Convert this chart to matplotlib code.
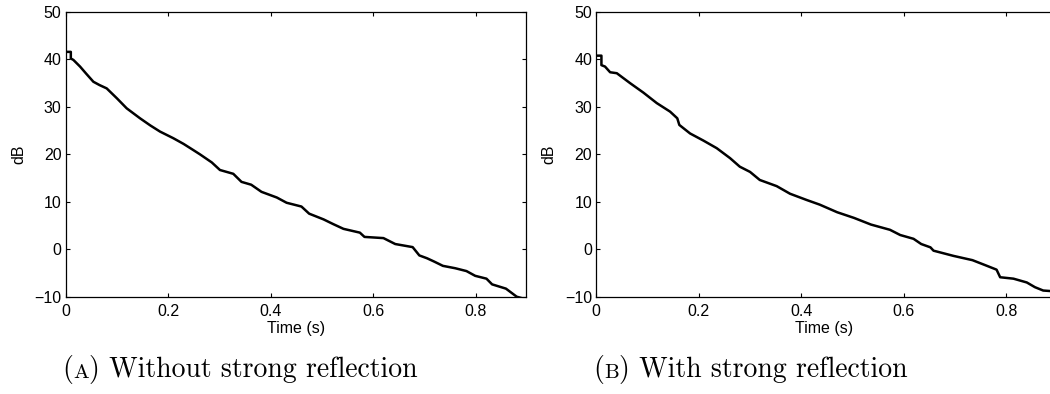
import matplotlib
matplotlib.use("Agg")
import matplotlib.pyplot as plt
from matplotlib.offsetbox import TextArea, HPacker, AnnotationBbox

# Panel A: without strong reflection (time s, level dB)
t_a = [0.0, 0.010, 0.010, 0.015, 0.028, 0.040, 0.054, 0.066, 0.080, 0.100, 0.119,
       0.145, 0.165, 0.184, 0.210, 0.230, 0.249, 0.262, 0.285, 0.301, 0.327, 0.343,
       0.362, 0.382, 0.412, 0.431, 0.460, 0.475, 0.503, 0.522, 0.542, 0.574, 0.583,
       0.620, 0.643, 0.677, 0.690, 0.705, 0.719, 0.736, 0.760, 0.782, 0.799, 0.821,
       0.832, 0.859, 0.880, 0.890]
db_a = [41.6, 41.6, 40.2, 39.9, 38.5, 37.0, 35.3, 34.6, 33.9, 31.8, 29.7,
        27.6, 26.1, 24.8, 23.4, 22.2, 20.9, 20.0, 18.3, 16.7, 15.9, 14.2,
        13.6, 12.1, 10.9, 9.8, 9.0, 7.5, 6.3, 5.3, 4.3, 3.5, 2.6,
        2.35, 1.1, 0.45, -1.3, -1.9, -2.6, -3.5, -4.0, -4.6, -5.6, -6.2,
        -7.4, -8.3, -10.0, -10.3]

# Panel B: with strong reflection
t_b = [0.0, 0.010, 0.010, 0.017, 0.027, 0.040, 0.066, 0.092, 0.118, 0.144, 0.158,
       0.162, 0.183, 0.209, 0.235, 0.261, 0.280, 0.300, 0.319, 0.352, 0.378, 0.410,
       0.436, 0.470, 0.503, 0.536, 0.573, 0.593, 0.619, 0.634, 0.652, 0.658, 0.697,
       0.734, 0.760, 0.781, 0.788, 0.814, 0.840, 0.856, 0.872, 0.885, 0.890]
db_b = [40.8, 40.8, 38.8, 38.5, 37.3, 37.1, 35.0, 33.0, 30.8, 29.0, 27.6,
        26.2, 24.4, 22.9, 21.3, 19.2, 17.4, 16.3, 14.6, 13.3, 11.7, 10.4,
        9.4, 7.8, 6.6, 5.2, 4.1, 3.0, 2.2, 1.1, 0.4, -0.3, -1.4,
        -2.3, -3.4, -4.3, -5.9, -6.2, -7.0, -8.0, -8.7, -8.8, -8.8]

yticks = [-10, 0, 10, 20, 30, 40, 50]
xticks = [0, 0.2, 0.4, 0.6, 0.8]
xtick_labels = ["0", "0.2", "0.4", "0.6", "0.8"]
ytick_labels = ["\u221210", "0", "10", "20", "30", "40", "50"]

W, H = 1050, 394
fig = plt.figure(figsize=(W / 100, H / 100), dpi=100)

sans = "Liberation Sans"

def make_axes(left_px, right_px, xmax, t, db, caption_letter, caption_rest, right_ticks):
    top_px, bot_px = 12, 296.7
    ax = fig.add_axes([left_px / W, 1 - bot_px / H,
                       (right_px - left_px) / W, (bot_px - top_px) / H])
    ax.plot(t, db, color="black", lw=1.8, solid_joinstyle="round")
    ax.set_xlim(0, xmax)
    ax.set_ylim(-10, 50)
    ax.set_xticks(xticks)
    ax.set_xticklabels(xtick_labels)
    ax.set_yticks(yticks)
    ax.set_yticklabels(ytick_labels)
    ax.tick_params(direction="in", top=True, right=right_ticks, length=3, width=0.8,
                   labelsize=11.5, pad=3)
    ax.tick_params(axis="x", pad=5)
    for lab in ax.get_xticklabels() + ax.get_yticklabels():
        lab.set_fontfamily(sans)
    for s in ax.spines.values():
        s.set_linewidth(0.9)
    ax.set_xlabel("Time (s)", fontfamily=sans, fontsize=11.5, labelpad=2)
    ax.set_ylabel("dB", fontfamily=sans, fontsize=11.5, labelpad=6)
    # caption with small-caps letter
    big = dict(fontfamily="cmr10", fontsize=20, color="black")
    small = dict(fontfamily="cmr10", fontsize=15, color="black")
    pack = HPacker(children=[TextArea("(", textprops=big),
                             TextArea(caption_letter, textprops=small),
                             TextArea(") " + caption_rest, textprops=big)],
                   align="baseline", pad=0, sep=0)
    ab = AnnotationBbox(pack, ((left_px - 3) / W, 1 - 370 / H),
                        xycoords="figure fraction", box_alignment=(0.0, 0.5),
                        frameon=False)
    fig.add_artist(ab)
    return ax

make_axes(65.7, 526, (526 - 65.7) / 512.5, t_a, db_a, "A", "Without strong reflection", True)
make_axes(596.3, 1052, (1052 - 596.3) / 512.5, t_b, db_b, "B", "With strong reflection", False)

fig.savefig("out.png", dpi=100)
